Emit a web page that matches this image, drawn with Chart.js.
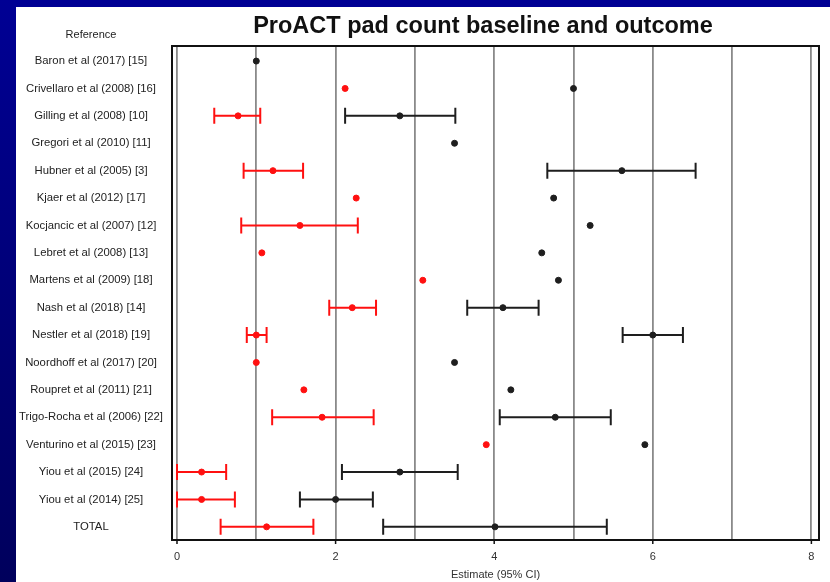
<!DOCTYPE html>
<html>
<head>
<meta charset="utf-8">
<script src="https://cdn.jsdelivr.net/npm/chart.js@4"></script>
<style>
  html, body { margin: 0; padding: 0; }
  body {
    width: 830px; height: 582px; overflow: hidden;
    background: linear-gradient(to bottom, #000094 0%, #000078 50%, #00005c 100%);
    position: relative;
  }
  #panel {
    position: absolute; left: 16px; top: 7px; width: 814px; height: 575px;
    background: #ffffff;
  }
</style>
</head>
<body>
<div id="panel"><canvas id="forest" width="814" height="575"></canvas></div>
<script>
// study labels, top to bottom
const studies = [
    'Baron et al (2017) [15]', 'Crivellaro et al (2008) [16]', 'Gilling et al (2008) [10]',
    'Gregori et al (2010) [11]', 'Hubner et al (2005) [3]', 'Kjaer et al (2012) [17]',
    'Kocjancic et al (2007) [12]', 'Lebret et al (2008) [13]', 'Martens et al (2009) [18]',
    'Nash et al (2018) [14]', 'Nestler et al (2018) [19]', 'Noordhoff et al (2017) [20]',
    'Roupret et al (2011) [21]', 'Trigo-Rocha et al (2006) [22]', 'Venturino et al (2015) [23]',
    'Yiou et al (2015) [24]', 'Yiou et al (2014) [25]', 'TOTAL'
];

// baseline pad count (black)
const baseEst = [1.0, 5.0, 2.81, 3.5, 5.61, 4.75, 5.21, 4.6, 4.81, 4.11, 6.0, 3.5, 4.21, 4.77, 5.9, 2.81, 2.0, 4.01];
const baseLo  = [null, null, 2.12, null, 4.67, null, null, null, null, 3.66, 5.62, null, null, 4.07, null, 2.08, 1.55, 2.6];
const baseHi  = [null, null, 3.51, null, 6.54, null, null, null, null, 4.56, 6.38, null, null, 5.47, null, 3.54, 2.47, 5.42];

// outcome pad count (red)
const outEst = [null, 2.12, 0.77, null, 1.21, 2.26, 1.55, 1.07, 3.1, 2.21, 1.0, 1.0, 1.6, 1.83, 3.9, 0.31, 0.31, 1.13];
const outLo  = [null, null, 0.47, null, 0.84, null, 0.81, null, null, 1.92, 0.88, null, null, 1.2, null, 0.0, 0.0, 0.55];
const outHi  = [null, null, 1.05, null, 1.59, null, 2.28, null, null, 2.51, 1.13, null, null, 2.48, null, 0.62, 0.73, 1.72];

const xTicks = [0, 2, 4, 6, 8];

const RED = '#ff1010';
const BLACK = '#1e1e1e';
const FONT = '"Liberation Sans", Arial, sans-serif';

const toPoints = est => est.map((v, i) => v === null ? null : {x: v, y: i}).filter(p => p);

// whiskers with caps go under the points; frame, title and header text on top
const forestPlugin = {
    id: 'forest',
    beforeDatasetsDraw(chart) {
        const {ctx, scales: {x, y}} = chart;
        const whiskers = (lo, hi, color) => {
            ctx.save();
            ctx.strokeStyle = color;
            ctx.lineWidth = 2;
            lo.forEach((l, i) => {
                if (l === null) return;
                const x1 = x.getPixelForValue(l), x2 = x.getPixelForValue(hi[i]);
                const py = y.getPixelForValue(i);
                ctx.beginPath();
                ctx.moveTo(x1, py); ctx.lineTo(x2, py);
                ctx.moveTo(x1, py - 8); ctx.lineTo(x1, py + 8);
                ctx.moveTo(x2, py - 8); ctx.lineTo(x2, py + 8);
                ctx.stroke();
            });
            ctx.restore();
        };
        whiskers(baseLo, baseHi, BLACK);
        whiskers(outLo, outHi, RED);
    },
    afterDraw(chart) {
        const {ctx, chartArea: a, scales: {x}} = chart;
        ctx.save();
        ctx.strokeStyle = '#111';
        ctx.lineWidth = 2;
        ctx.strokeRect(a.left, a.top, a.right - a.left, a.bottom - a.top);
        ctx.lineWidth = 1.5;
        xTicks.forEach(t => {
            const px = x.getPixelForValue(t);
            ctx.beginPath();
            ctx.moveTo(px, a.bottom);
            ctx.lineTo(px, a.bottom + 4);
            ctx.stroke();
        });
        ctx.textAlign = 'center';
        ctx.textBaseline = 'middle';
        ctx.fillStyle = '#111';
        ctx.font = 'bold 23.5px ' + FONT;
        ctx.fillText('ProACT pad count baseline and outcome', 467, 20);
        ctx.fillStyle = '#222';
        ctx.font = '11px ' + FONT;
        ctx.fillText('Reference', 75, 28);
        ctx.restore();
    }
};

new Chart(document.getElementById('forest'), {
    type: 'scatter',
    data: {
        datasets: [
            {
                label: 'Baseline',
                data: toPoints(baseEst),
                backgroundColor: BLACK,
                borderColor: BLACK,
                pointRadius: 3,
                pointHoverRadius: 3
            },
            {
                label: 'Outcome',
                data: toPoints(outEst),
                backgroundColor: RED,
                borderColor: RED,
                pointRadius: 3,
                pointHoverRadius: 3
            }
        ]
    },
    options: {
        responsive: false,
        animation: false,
        events: [],
        layout: {padding: {left: 0, right: 11, top: 39, bottom: 0}},
        plugins: {
            legend: {display: false},
            tooltip: {enabled: false},
            title: {display: false}
        },
        scales: {
            x: {
                type: 'linear',
                min: -0.063,
                max: 8.096,
                grid: {color: '#8a8a8a', lineWidth: 1.8, drawTicks: false},
                border: {display: false},
                afterFit: scale => { scale.height = 42; },
                ticks: {
                    stepSize: 1,
                    includeBounds: false,
                    autoSkip: false,
                    maxRotation: 0,
                    padding: 10,
                    color: '#333',
                    font: {family: FONT, size: 11},
                    callback: v => xTicks.includes(v) ? String(v) : ''
                },
                title: {
                    display: true,
                    text: 'Estimate (95% CI)',
                    color: '#333',
                    font: {family: FONT, size: 11},
                    padding: {top: 4, bottom: 0}
                }
            },
            y: {
                type: 'linear',
                reverse: true,
                min: -0.55,
                max: 17.48,
                grid: {display: false, drawTicks: false},
                border: {display: false},
                afterFit: scale => { scale.width = 156; },
                ticks: {
                    stepSize: 1,
                    includeBounds: false,
                    autoSkip: false,
                    crossAlign: 'center',
                    padding: 9,
                    color: '#222',
                    font: {family: FONT, size: 11.3},
                    callback: v => studies[v] ?? ''
                }
            }
        }
    },
    plugins: [forestPlugin]
});
</script>
</body>
</html>
